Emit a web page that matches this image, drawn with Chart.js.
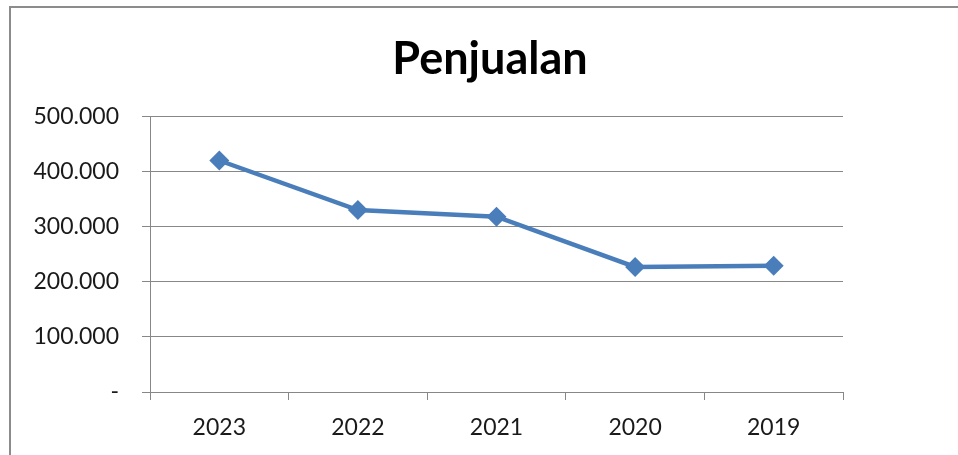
<!DOCTYPE html>
<html>
<head>
<meta charset="utf-8">
<script src="https://cdn.jsdelivr.net/npm/chart.js@4/dist/chart.umd.min.js"></script>
<style>
  html, body { margin: 0; padding: 0; background: #fff; }
  #wrap { position: relative; width: 958px; height: 455px; overflow: hidden; }
  #frame {
    position: absolute; left: 9px; top: 6px; width: 1000px; height: 500px;
    border-left: 2px solid #8c8c8c; border-top: 2px solid #8c8c8c;
    pointer-events: none;
  }
</style>
</head>
<body>
<div id="wrap">
  <canvas id="salesChart" width="958" height="455"></canvas>
  <div id="frame"></div>
</div>
<script>
// Penjualan per tahun
const years = ["2023", "2022", "2021", "2020", "2019"];
const sales = [420000, 330000, 318000, 227000, 229000];
const yMin = 0;
const yMax = 500000;
const yStep = 100000;

const lineBlue = "#4a7ebb";
const gridGray = "#878787";

// 500000 -> "500.000", 0 -> "-"
function formatRibuan(v) {
  if (v === 0) return "-";
  return String(v).replace(/\B(?=(\d{3})+(?!\d))/g, ".");
}

const ctx = document.getElementById("salesChart").getContext("2d");
new Chart(ctx, {
  type: "line",
  data: {
    labels: years,
    datasets: [{
      label: "Penjualan",
      data: sales,
      borderColor: lineBlue,
      backgroundColor: lineBlue,
      borderWidth: 4.5,
      tension: 0,
      pointStyle: "rectRot",
      pointRadius: 10,
      pointBorderWidth: 0,
      pointBackgroundColor: lineBlue
    }]
  },
  options: {
    responsive: false,
    animation: false,
    layout: { padding: { left: 22, right: 0, top: 0, bottom: 0 } },
    plugins: {
      legend: { display: false },
      tooltip: { enabled: false },
      title: {
        display: true,
        text: "Penjualan",
        color: "#000",
        font: { family: "Lato", size: 45, weight: "bold", lineHeight: 1.2 },
        padding: { top: 32, bottom: 30.4 }
      }
    },
    scales: {
      x: {
        offset: true,
        afterFit: axis => { axis.height = 63; },
        grid: {
          offset: true,
          drawOnChartArea: false,
          drawTicks: true,
          tickLength: 8,
          color: gridGray
        },
        border: { display: true, color: gridGray },
        ticks: {
          color: "#1a1a1a",
          padding: 14,
          font: { family: "Lato", size: 23 }
        }
      },
      y: {
        min: yMin,
        max: yMax,
        afterFit: axis => { axis.width = 128; },
        grid: {
          color: gridGray,
          drawTicks: true,
          tickLength: 8
        },
        border: { display: true, color: gridGray },
        ticks: {
          stepSize: yStep,
          color: "#1a1a1a",
          padding: 23,
          font: { family: "Lato", size: 23 },
          callback: v => formatRibuan(v)
        }
      },
      // empty right-side space so the title centres like the original
      spacer: {
        type: "linear",
        position: "right",
        min: yMin,
        max: yMax,
        afterFit: axis => { axis.width = 115; },
        grid: { display: false, drawOnChartArea: false },
        border: { display: false },
        ticks: { display: false }
      }
    }
  }
});
</script>
</body>
</html>
